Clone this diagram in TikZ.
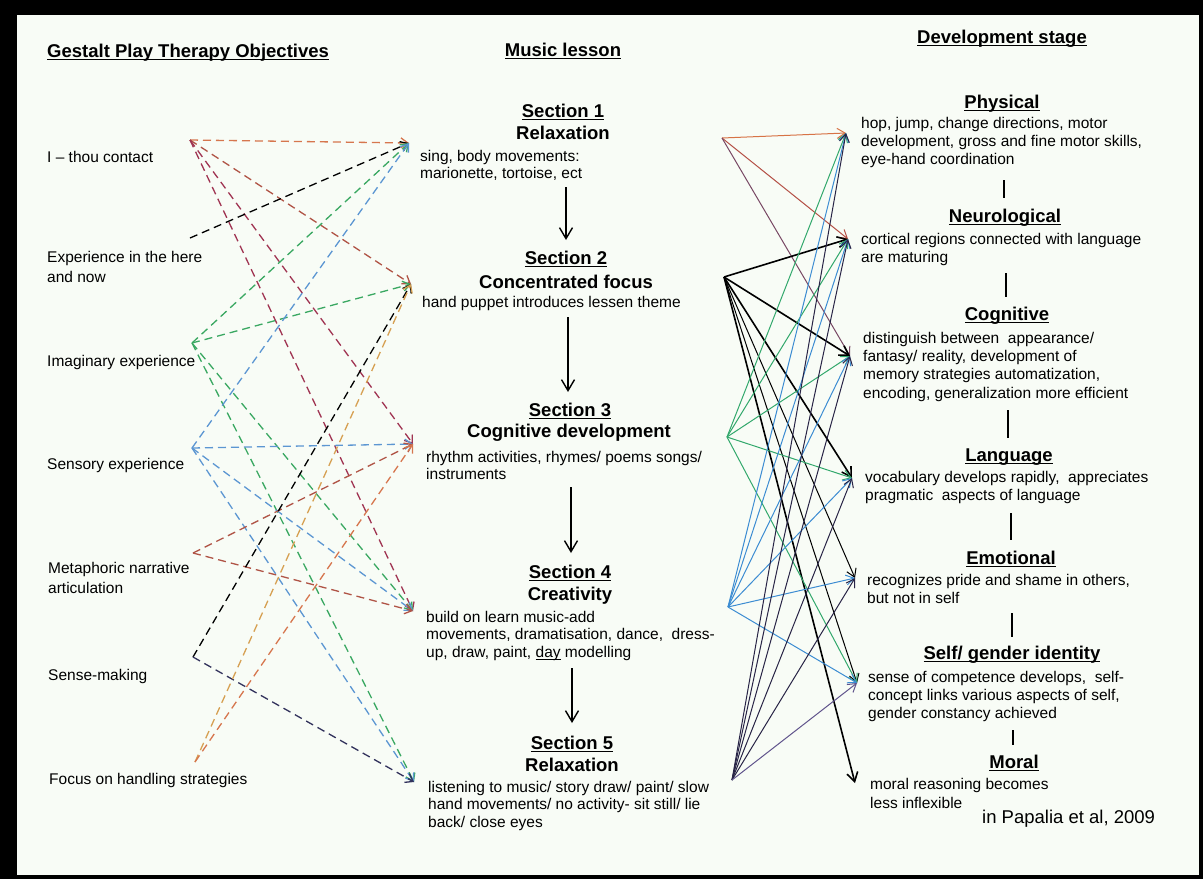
\documentclass[tikz,border=0pt]{standalone}
\usepackage{fontspec}
\setmainfont{Liberation Sans}
\usetikzlibrary{arrows.meta}
\newcommand\myul[2][1.3pt]{\setbox0=\hbox{#2}\rlap{\rule[-2.8pt]{\wd0}{#1}}\box0}
\definecolor{paper}{RGB}{248,252,246}
\definecolor{dorange}{RGB}{214,118,78}
\definecolor{dbrown}{RGB}{176,84,70}
\definecolor{dmaroon}{RGB}{160,52,82}
\definecolor{dgreen}{RGB}{58,168,98}
\definecolor{dblue}{RGB}{92,150,210}
\definecolor{dtan}{RGB}{214,160,82}
\definecolor{dnavy}{RGB}{50,50,92}
\definecolor{rorange}{RGB}{215,115,70}
\definecolor{rrust}{RGB}{180,80,70}
\definecolor{rplum}{RGB}{120,72,100}
\definecolor{rgreen}{RGB}{50,168,108}
\definecolor{rblue}{RGB}{60,140,210}
\definecolor{rdark}{RGB}{40,36,70}
\definecolor{rpurple}{RGB}{96,84,140}
\tikzset{
  hdr/.style={font=\fontsize{18.5}{22}\selectfont\bfseries, inner sep=0pt, anchor=base},
  ttl/.style={font=\fontsize{18.5}{22}\selectfont\bfseries, inner sep=0pt, anchor=base},
  body/.style={font=\fontsize{15.5}{17.5}\selectfont, inner sep=0pt, anchor=base west, align=left},
  rbody/.style={font=\fontsize{15.5}{18.4}\selectfont, inner sep=0pt, anchor=base west, align=left},
  obj/.style={font=\fontsize{15.5}{20}\selectfont, inner sep=0pt, anchor=base west, align=left},
  dsh/.style={dash pattern=on 8pt off 5pt, line width=1.3pt, -{Straight Barb[length=7pt,width=10pt]}},
  sol/.style={line width=1pt, -{Straight Barb[length=8pt,width=10pt]}},
  solb/.style={line width=1.6pt, -{Straight Barb[length=9pt,width=11pt]}},
  flow/.style={line width=1.4pt, -{Straight Barb[length=11pt,width=13pt]}},
  link/.style={line width=2.4pt},
}
\begin{document}
% multi-line nodes are placed by the baseline of their last line
\begin{tikzpicture}[x=1pt,y=-1pt]
\useasboundingbox (0,0) rectangle (1203,879);
\fill[black] (0,0) rectangle (1203,879);
\fill[paper] (17,15) rectangle (1199,875);

% headers
\node[hdr, anchor=base west] (hL) at (47,57) {\myul{Gestalt Play Therapy Objectives}};
\node[hdr] (hM) at (563,56) {\myul{Music lesson}};
\node[hdr] (hR) at (1002,43) {\myul{Development stage}};

% objectives
\node[obj] (o1) at (47,162) {I – thou contact};
\node[obj] (o2) at (47,282) {Experience in the here\\and now};
\node[obj] (o3) at (47,366) {Imaginary experience};
\node[obj] (o4) at (47,469) {Sensory experience};
\node[obj] (o5) at (48,593) {Metaphoric narrative\\articulation};
\node[obj] (o6) at (48,680) {Sense-making};
\node[obj] (o7) at (49,784) {Focus on handling strategies};

% music lesson
\node[ttl] (s1h) at (563,117) {\myul{Section 1}};
\node[ttl] (s1t) at (563,139) {Relaxation};
\node[body] (s1b) at (420,178.5) {sing, body movements:\\marionette, tortoise, ect};
\node[ttl] (s2h) at (566,264) {\myul{Section 2}};
\node[ttl] (s2t) at (566,288) {Concentrated focus};
\node[body] (s2b) at (422,307) {hand puppet introduces lessen theme};
\node[ttl] (s3h) at (570,416) {\myul{Section 3}};
\node[ttl] (s3t) at (569,437) {Cognitive development};
\node[body] (s3b) at (426,479.5) {rhythm activities, rhymes/ poems songs/\\instruments};
\node[ttl] (s4h) at (570,578) {\myul{Section 4}};
\node[ttl] (s4t) at (570,600) {Creativity};
\node[body] (s4b) at (426,657) {build on learn music-add\\movements, dramatisation, dance,\ \ dress-\\up, draw, paint, \myul[0.9pt]{day}\ modelling};
\node[ttl] (s5h) at (572,749) {\myul{Section 5}};
\node[ttl] (s5t) at (572,771) {Relaxation};
\node[body] (s5b) at (428,827) {listening to music/ story draw/ paint/ slow\\hand movements/ no activity- sit still/ lie\\back/ close eyes};

\coordinate (f1a) at (566,187); \coordinate (f1b) at (566,240);
\coordinate (f2a) at (568,317); \coordinate (f2b) at (568,392);
\coordinate (f3a) at (571,487); \coordinate (f3b) at (571,553);
\coordinate (f4a) at (572,668); \coordinate (f4b) at (572,723);
\draw[flow] (f1a) -- (f1b);
\draw[flow] (f2a) -- (f2b);
\draw[flow] (f3a) -- (f3b);
\draw[flow] (f4a) -- (f4b);

% development stage
\node[ttl] (phy) at (1002,108) {\myul{Physical}};
\node[rbody] (phyb) at (861,164.8) {hop, jump, change directions, motor\\development, gross and fine motor skills,\\eye-hand coordination};
\node[ttl] (neu) at (1005,222) {\myul{Neurological}};
\node[rbody] (neub) at (861,262.4) {cortical regions connected with language\\are maturing};
\node[ttl] (cog) at (1007,320) {\myul{Cognitive}};
\node[rbody] (cogb) at (863,398.2) {distinguish between\ \ appearance/\\fantasy/ reality, development of\\memory strategies automatization,\\encoding, generalization more efficient};
\node[ttl] (lan) at (1009,461) {\myul{Language}};
\node[rbody] (lanb) at (865,500.4) {vocabulary develops rapidly,\ \ appreciates\\pragmatic\ \ aspects of language};
\node[ttl] (emo) at (1011,564) {\myul{Emotional}};
\node[rbody] (emob) at (867,603.4) {recognizes pride and shame in others,\\but not in self};
\node[ttl] (sel) at (1012,659) {\myul{Self/ gender identity}};
\node[rbody] (selb) at (868,718.8) {sense of competence develops,\ \ self-\\concept links various aspects of self,\\gender constancy achieved};
\node[ttl] (mor) at (1014,768) {\myul{Moral}};
\node[rbody] (morb) at (870,808) {moral reasoning becomes\\less inflexible};
\node[font=\fontsize{18.5}{22}\selectfont, inner sep=0pt, anchor=base west] (ref) at (982,823) {in Papalia et al, 2009};

\coordinate (v1a) at (1004,180); \coordinate (v1b) at (1004,198);
\coordinate (v2a) at (1006,273); \coordinate (v2b) at (1006,297);
\coordinate (v3a) at (1008,410); \coordinate (v3b) at (1008,438);
\coordinate (v4a) at (1011,513); \coordinate (v4b) at (1011,540);
\coordinate (v5a) at (1012,613); \coordinate (v5b) at (1012,637);
\coordinate (v6a) at (1013,730); \coordinate (v6b) at (1013,745);
\foreach \v in {1,...,6} \draw[link] (v\v a) -- (v\v b);

% left connector ends
\coordinate (A1) at (190,140);
\coordinate (A2) at (190,238);
\coordinate (A3) at (192,343);
\coordinate (A4) at (192,448);
\coordinate (A5) at (193,553);
\coordinate (A6) at (193,657);
\coordinate (A7) at (195,762);
\coordinate (T1) at (409,143);
\coordinate (T2) at (411,284);
\coordinate (T3) at (413,444);
\coordinate (T4) at (413,611);
\coordinate (T5) at (414,782);

\draw[dsh, dorange] (A1) -- (T1);
\draw[dsh, dbrown] (A1) -- (T2);
\draw[dsh, dmaroon] (A1) -- (T3);
\draw[dsh, dmaroon] (A1) -- (T4);
\draw[dsh, black] (A2) -- (T1);
\draw[dsh, dgreen] (A3) -- (T1);
\draw[dsh, dgreen] (A3) -- (T2);
\draw[dsh, dgreen] (A3) -- (T4);
\draw[dsh, dgreen] (A3) -- (T5);
\draw[dsh, dblue] (A4) -- (T1);
\draw[dsh, dblue] (A4) -- (T3);
\draw[dsh, dblue] (A4) -- (T4);
\draw[dsh, dblue] (A4) -- (T5);
\draw[dsh, dbrown] (A5) -- (T3);
\draw[dsh, dbrown] (A5) -- (T4);
\draw[dsh, black] (A6) -- (T2);
\draw[dsh, dnavy] (A6) -- (T5);
\draw[dsh, dtan] (A7) -- (T2);
\draw[dsh, dorange] (A7) -- (T3);

% right connector ends
\coordinate (R1) at (722,138);
\coordinate (R2) at (724,277);
\coordinate (R3) at (727,437);
\coordinate (R4) at (728,607);
\coordinate (R5) at (732,780);
\coordinate (P) at (846,133);
\coordinate (N) at (848,239);
\coordinate (C) at (850,356);
\coordinate (L) at (852,478);
\coordinate (E) at (855,578);
\coordinate (S) at (857,683);
\coordinate (M) at (855,783);

\draw[sol, rorange] (R1) -- (P);
\draw[sol, rrust] (R1) -- (N);
\draw[sol, rplum] (R1) -- (C);
\draw[solb, black] (R2) -- (N);
\draw[solb, black] (R2) -- (C);
\draw[solb, black] (R2) -- (L);
\draw[sol, black] (R2) -- (E);
\draw[sol, black] (R2) -- (S);
\draw[solb, black] (R2) -- (M);
\foreach \t in {P,N,C,L,S} \draw[sol, rgreen] (R3) -- (\t);
\foreach \t in {P,N,C,L,E,S} \draw[sol, rblue] (R4) -- (\t);
\foreach \t in {P,N,C,L,E} \draw[sol, rdark] (R5) -- (\t);
\draw[sol, rpurple] (R5) -- (S);
\end{tikzpicture}
\end{document}
